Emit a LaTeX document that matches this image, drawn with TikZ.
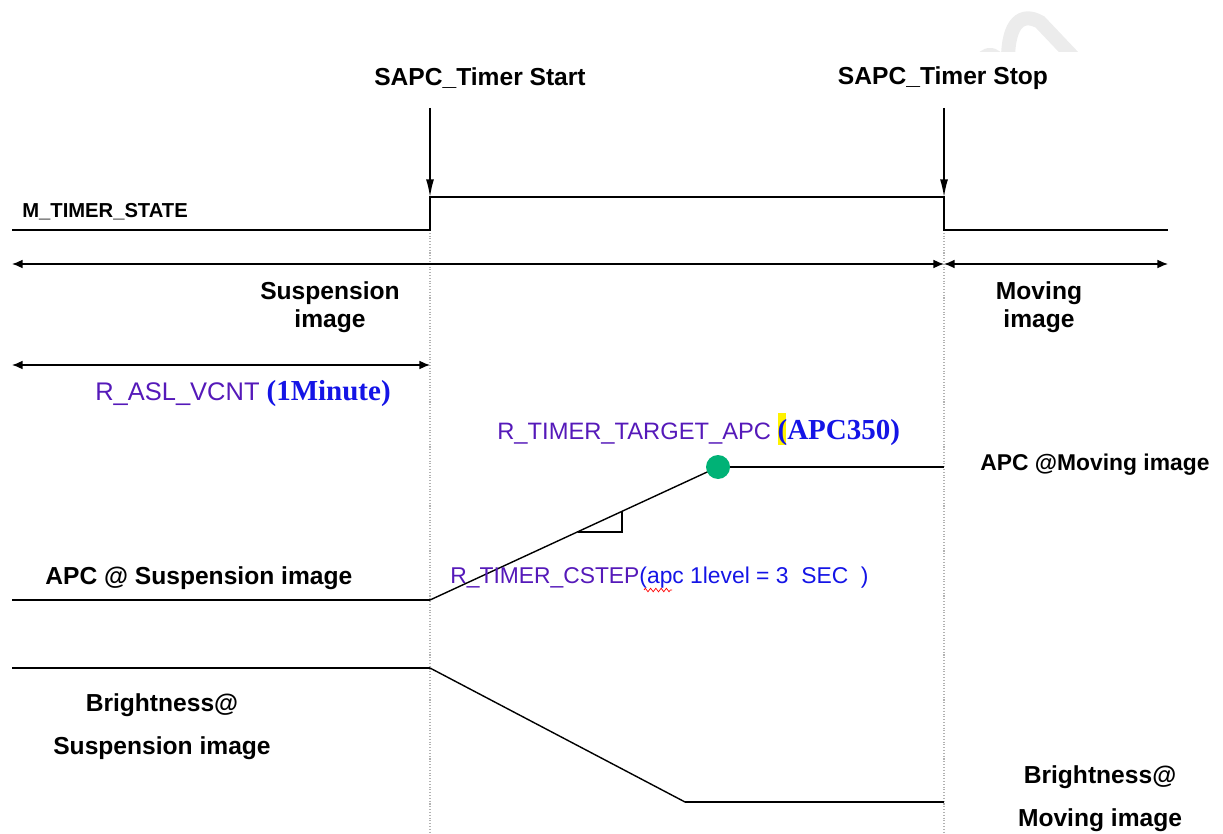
\documentclass[tikz,border=0pt]{standalone}
\usepackage{fontspec}
\setmainfont{Liberation Sans}
\newfontfamily\valfont{Liberation Serif}
\usepackage{tikz}
\usetikzlibrary{arrows.meta,decorations.pathmorphing}
\definecolor{regpurple}{RGB}{85,25,185}
\definecolor{valblue}{RGB}{20,20,230}
\definecolor{dotgreen}{RGB}{0,178,118}

\begin{document}
\begin{tikzpicture}[x=0.02cm,y=-0.02cm,
  sig/.style={line width=1pt},
  guide/.style={gray!60, densely dotted, line width=0.6pt},
  span/.style={{Latex[length=6pt,width=5pt]}-{Latex[length=6pt,width=5pt]}, line width=0.8pt},
  evtarrow/.style={-{Latex[length=10pt,width=4.5pt]}, line width=0.8pt},
  lbl/.style={font=\fontsize{14}{16}\selectfont\bfseries, inner sep=0pt, align=center},
  reg/.style={font=\fontsize{13.5}{16}\selectfont, inner sep=0pt, anchor=base west}]
\useasboundingbox (0,0) rectangle (1223,834);

\begin{scope}
\clip (960,0) rectangle (1100,52);
\draw[gray!15, line width=8pt] (1008,60) .. controls (1008,22) and (1022,12) .. (1040,22) -- (1076,60);
\fill[gray!15] (990,60) ellipse (14 and 12);
\end{scope}

\node[lbl] (start) at (480,78) {SAPC\_Timer Start};
\node[lbl] (stop)  at (943,78) {SAPC\_Timer Stop};
\node[lbl, anchor=west] (state) at (22,212) {\fontsize{11.5}{13}\selectfont M\_TIMER\_STATE};

\coordinate (tsL)   at (12,230);
\coordinate (tsUp0) at (430,230);
\coordinate (tsUp1) at (430,197);
\coordinate (tsDn0) at (944,197);
\coordinate (tsDn1) at (944,230);
\coordinate (tsR)   at (1168,230);
\coordinate (startArr) at (430,108);
\coordinate (stopArr)  at (944,108);

\draw[guide] (tsUp0) -- (430,834);
\draw[guide] (tsDn1) -- (944,834);

\draw[evtarrow] (startArr) -- (tsUp1);
\draw[evtarrow] (stopArr) -- (tsDn0);
\draw[sig] (tsL) -- (tsUp0) -- (tsUp1) -- (tsDn0) -- (tsDn1) -- (tsR);

\coordinate (spanL)  at (12,264);
\coordinate (spanM)  at (944,264);
\coordinate (spanR)  at (1168,264);
\draw[span] (spanL) -- (spanM);
\draw[span] (spanM) -- (spanR);
\node[lbl] (susp) at (330,307) {Suspension\\image};
\node[lbl] (mov)  at (1039,307) {Moving\\image};

\coordinate (vcntL) at (12,365);
\coordinate (vcntR) at (430,365);
\draw[span] (vcntL) -- (vcntR);
\node[reg, font=\fontsize{14.5}{16}\selectfont] (vcnt) at (95,400) {\textcolor{regpurple}{R\_ASL\_VCNT} \textcolor{valblue}{\valfont\bfseries\fontsize{16.5}{18}\selectfont(1Minute)}};

\node[reg] (target) at (497,439) {\textcolor{regpurple}{R\_TIMER\_TARGET\_APC} \textcolor{valblue}{\valfont\bfseries\fontsize{16.5}{18}\selectfont\makebox[0pt][l]{\textcolor{yellow}{\rule[-0.2em]{0.3em}{1.1em}}}(APC350)}};

\coordinate (apcL)  at (12,600);
\coordinate (apc0)  at (430,600);
\coordinate (apc1)  at (718,467);
\coordinate (apcR)  at (944,467);
\draw[sig] (apcL) -- (apc0);
\draw[line width=0.8pt] (apc0) -- (apc1);
\draw[sig] (apc1) -- (apcR);
\fill[dotgreen] (apc1) circle (12);
\draw[line width=0.8pt] (578,532) -- (622,532) -- (622,511);

\node[lbl, anchor=west] (apcsusp) at (45,578) {APC @ Suspension image};
\node[lbl, anchor=west, font=\fontsize{13}{15}\selectfont\bfseries] (apcmov) at (980,465) {APC @Moving image};
\node[reg, font=\fontsize{13}{15}\selectfont] (cstep) at (450,583) {\textcolor{regpurple}{R\_TIMER\_CSTEP}\textcolor{valblue}{(apc 1level = 3\ \ SEC\ \ )}};
\draw[red, line width=0.4pt, decorate, decoration={zigzag, amplitude=1pt, segment length=3pt}] (644,590) -- (672,590);

\coordinate (brL) at (12,668);
\coordinate (br0) at (430,668);
\coordinate (br1) at (685,802);
\coordinate (brR) at (944,802);
\draw[sig] (brL) -- (br0);
\draw[line width=0.8pt] (br0) -- (br1);
\draw[sig] (br1) -- (brR);

\node[lbl] (brsusp) at (162,727) {Brightness@\\[0.6em]Suspension image};
\node[lbl] (brmov)  at (1100,799) {Brightness@\\[0.6em]Moving image};
\end{tikzpicture}
\end{document}
